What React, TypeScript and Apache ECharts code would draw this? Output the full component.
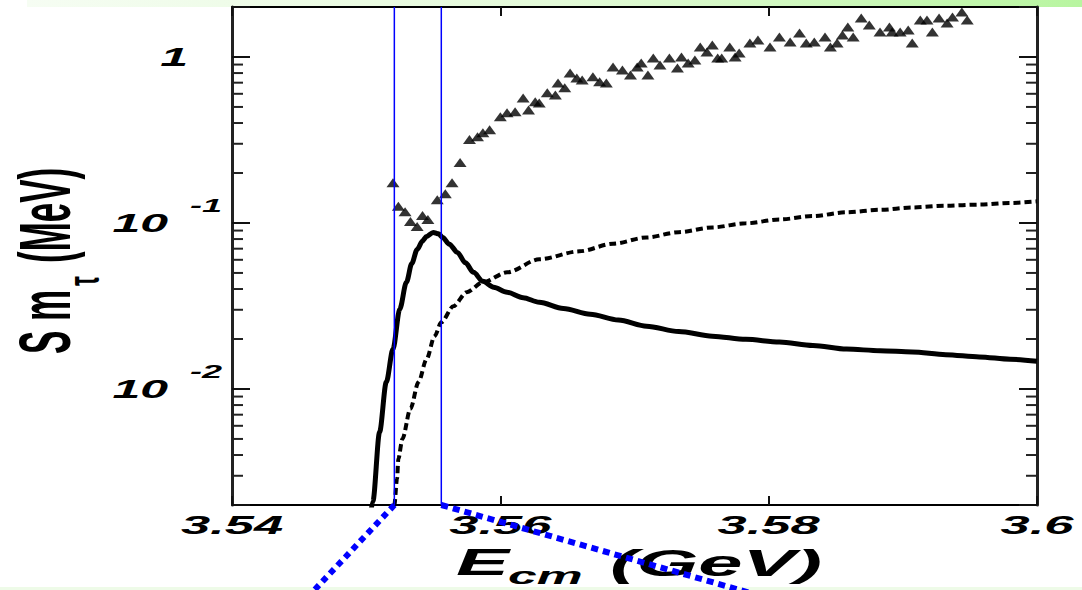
import React, { useEffect, useRef } from 'react';
import * as echarts from 'echarts';

// ---- axes ----
const xTicks = [3.54, 3.56, 3.58, 3.6];
const xTickLabels = ['3.54', '3.56', '3.58', '3.6'];
const yTicks = [1, 0.1, 0.01];
const yTickBase = ['1', '10', '10'];
const yTickExp = ['', '-1', '-2'];
const yMinorTicks = [0.003, 0.004, 0.005, 0.006, 0.007, 0.008, 0.009, 0.02, 0.03, 0.04, 0.05, 0.06, 0.07, 0.08, 0.09, 0.2, 0.3, 0.4, 0.5, 0.6, 0.7, 0.8, 0.9];
const zoomLines = [3.5521, 3.5556];

// ---- triangles (data points) ----
const triE = [3.5520, 3.5524, 3.5529, 3.5533, 3.5538, 3.5542, 3.5546, 3.5553, 3.5559, 3.5564, 3.5570, 3.5577, 3.5583, 3.5587, 3.5592, 3.5600, 3.5605, 3.5611, 3.5617, 3.5621, 3.5626, 3.5629, 3.5635, 3.5641, 3.5643, 3.5648, 3.5652, 3.5657, 3.5661, 3.5669, 3.5674, 3.5679, 3.5684, 3.5691, 3.5697, 3.5702, 3.5705, 3.5710, 3.5714, 3.5719, 3.5726, 3.5732, 3.5735, 3.5740, 3.5745, 3.5749, 3.5754, 3.5758, 3.5762, 3.5765, 3.5771, 3.5775, 3.5778, 3.5786, 3.5792, 3.5801, 3.5808, 3.5816, 3.5823, 3.5828, 3.5834, 3.5842, 3.5846, 3.5851, 3.5855, 3.5859, 3.5863, 3.5869, 3.5875, 3.5883, 3.5890, 3.5892, 3.5898, 3.5904, 3.5907, 3.5913, 3.5918, 3.5922, 3.5927, 3.5933, 3.5937, 3.5944, 3.5948];
const triS = [0.175, 0.126, 0.117, 0.102, 0.0953, 0.111, 0.105, 0.138, 0.150, 0.175, 0.231, 0.318, 0.331, 0.350, 0.365, 0.436, 0.461, 0.467, 0.567, 0.480, 0.537, 0.529, 0.608, 0.591, 0.698, 0.652, 0.801, 0.748, 0.727, 0.759, 0.708, 0.698, 0.871, 0.835, 0.780, 0.871, 0.921, 0.780, 0.986, 0.895, 0.986, 0.859, 1.0, 0.921, 0.959, 1.148, 1.072, 1.180, 0.986, 0.986, 1.148, 1.0, 1.057, 1.214, 1.265, 1.148, 1.318, 1.230, 1.394, 1.214, 1.230, 1.318, 1.148, 1.214, 1.355, 1.514, 1.318, 1.715, 1.557, 1.413, 1.514, 1.413, 1.413, 1.452, 1.214, 1.668, 1.668, 1.413, 1.715, 1.600, 1.738, 1.864, 1.668];

// ---- solid curve ----
const solidE = [3.5503, 3.5505, 3.5510, 3.5515, 3.5520, 3.5525, 3.5530, 3.5534, 3.5538, 3.5542, 3.5545, 3.5550, 3.5554, 3.5557, 3.5562, 3.5568, 3.5574, 3.5580, 3.5587, 3.5595, 3.5605, 3.5617, 3.5629, 3.5647, 3.5667, 3.5688, 3.5709, 3.5733, 3.5758, 3.5783, 3.5808, 3.5833, 3.5858, 3.5883, 3.5907, 3.5932, 3.5957, 3.5980, 3.6000];
const solidS = [0.0017, 0.0021, 0.0055, 0.0110, 0.0174, 0.0302, 0.0439, 0.0570, 0.0693, 0.0780, 0.0830, 0.0877, 0.0860, 0.0818, 0.0745, 0.0665, 0.0575, 0.0504, 0.0445, 0.0410, 0.0383, 0.0355, 0.0333, 0.0305, 0.0282, 0.0260, 0.0239, 0.0222, 0.0208, 0.0199, 0.0192, 0.0183, 0.0174, 0.0170, 0.0167, 0.0161, 0.0156, 0.0151, 0.0147];

// ---- dashed curve ----
const dashE = [3.5520, 3.5521, 3.5523, 3.5524, 3.5527, 3.5533, 3.5539, 3.5545, 3.5551, 3.5556, 3.5565, 3.5575, 3.5587, 3.5605, 3.5629, 3.5659, 3.5684, 3.5709, 3.5733, 3.5758, 3.5783, 3.5808, 3.5833, 3.5858, 3.5883, 3.5907, 3.5932, 3.5957, 3.5980, 3.6000];
const dashS = [0.0017, 0.0020, 0.00288, 0.0038, 0.0050, 0.0076, 0.0110, 0.0151, 0.0208, 0.0252, 0.0315, 0.0383, 0.0439, 0.0504, 0.0604, 0.0675, 0.0750, 0.0818, 0.0880, 0.0940, 0.0995, 0.105, 0.110, 0.116, 0.120, 0.124, 0.127, 0.129, 0.132, 0.135];

const FONT = 'Liberation Sans, Arial, sans-serif';

function txt(text: string, x: number, y: number, size: number, align: string, valign: string, extra: any = {}) {
  return {
    type: 'text',
    x,
    y,
    silent: true,
    ...extra,
    style: {
      text,
      fontFamily: FONT,
      fontSize: size,
      fontWeight: 'bold',
      fontStyle: 'italic',
      fill: '#000',
      align,
      verticalAlign: valign,
      textAlign: align,
      textVerticalAlign: valign,
    },
  };
}

export default function App() {
  const ref = useRef<HTMLDivElement>(null);
  useEffect(() => {
    if (!ref.current) return;
    const chart = echarts.init(ref.current, null, { renderer: 'svg' });
    const tickStyle = { color: '#111', width: 2 };
    const xAxisBase = {
      type: 'value',
      min: 3.54,
      max: 3.6,
      interval: 0.02,
      axisLine: { show: false },
      axisTick: { show: true, inside: true, length: 9, lineStyle: tickStyle },
      axisLabel: { show: false },
      splitLine: { show: false },
    };
    const yAxisBase = {
      type: 'log',
      logBase: 10,
      min: 0.002,
      max: 2,
      axisLine: { show: true, lineStyle: { color: '#222', width: 3 } },
      axisTick: { show: true, inside: true, length: 18, lineStyle: tickStyle },
      axisLabel: { show: false },
      splitLine: { show: false },
    };
    const option: any = {
      animation: false,
      backgroundColor: '#fff',
      grid: { left: 232, top: 7, right: 45, bottom: 85, show: true, borderColor: '#000', borderWidth: 2, backgroundColor: 'transparent' },
      xAxis: [
        { ...xAxisBase, position: 'bottom' },
        { ...xAxisBase, position: 'top' },
      ],
      yAxis: [
        { ...yAxisBase, position: 'left' },
        { ...yAxisBase, position: 'right' },
      ],
      series: [
        {
          type: 'custom',
          xAxisIndex: 0,
          yAxisIndex: 0,
          silent: true,
          clip: false,
          z: 5,
          data: yMinorTicks.map((v) => [3.54, v]),
          renderItem: (params: any, api: any) => {
            const p = api.coord([api.value(0), api.value(1)]);
            const cs = params.coordSys;
            return {
              type: 'group',
              children: [
                { type: 'line', shape: { x1: cs.x, y1: p[1], x2: cs.x + 11, y2: p[1] }, style: { stroke: '#222', lineWidth: 2 } },
                { type: 'line', shape: { x1: cs.x + cs.width - 11, y1: p[1], x2: cs.x + cs.width, y2: p[1] }, style: { stroke: '#222', lineWidth: 2 } },
              ],
            };
          },
        },
        {
          type: 'custom',
          xAxisIndex: 0,
          yAxisIndex: 0,
          silent: true,
          clip: false,
          z: 6,
          data: zoomLines.map((v) => [v, 0.002]),
          renderItem: (params: any, api: any) => {
            const p = api.coord([api.value(0), api.value(1)]);
            const cs = params.coordSys;
            return {
              type: 'line',
              shape: { x1: p[0], y1: cs.y, x2: p[0], y2: cs.y + cs.height },
              style: { stroke: '#0000ff', lineWidth: 1.5 },
            };
          },
        },
        {
          type: 'line',
          data: dashE.map((e, i) => [e, dashS[i]]),
          showSymbol: false,
          smooth: 0.3,
          smoothMonotone: 'x',
          clip: true,
          lineStyle: { color: '#000', width: 4, type: [7, 4] },
          silent: true,
        },
        {
          type: 'line',
          data: solidE.map((e, i) => [e, solidS[i]]),
          showSymbol: false,
          smooth: 0.3,
          smoothMonotone: 'x',
          clip: true,
          lineStyle: { color: '#000', width: 5 },
          silent: true,
        },
        {
          type: 'scatter',
          data: triE.map((e, i) => [e, triS[i]]),
          symbol: 'triangle',
          symbolSize: [13, 9],
          itemStyle: { color: '#000' },
          silent: true,
        },
      ],
    };
    chart.setOption(option);

    const conv = (x: number, y: number) => chart.convertToPixel({ xAxisIndex: 0, yAxisIndex: 0 }, [x, y]) as number[];
    const pL = conv(zoomLines[0], 0.002);
    const pR = conv(zoomLines[1], 0.002);
    const graphics: any[] = [];
    graphics.push({
      type: 'rect',
      silent: true,
      z: -1,
      shape: { x: 27, y: 0, width: 1055, height: 7 },
      style: {
        fill: new echarts.graphic.LinearGradient(0, 0, 1, 0, [
          { offset: 0, color: '#f6fdf3' },
          { offset: 0.5, color: '#e3fad8' },
          { offset: 1, color: '#b8f5a0' },
        ]),
      },
    });
    graphics.push({
      type: 'rect',
      silent: true,
      shape: { x: 0, y: 587, width: 1082, height: 3 },
      style: { fill: '#eefbe8' },
    });
    graphics.push({
      type: 'line',
      silent: true,
      z: 100,
      shape: { x1: pL[0], y1: pL[1], x2: 305, y2: 600 },
      style: { stroke: '#0000ff', lineWidth: 6, lineDash: [6, 5] },
    });
    graphics.push({
      type: 'line',
      silent: true,
      z: 100,
      shape: { x1: pR[0], y1: pR[1], x2: 775, y2: 600 },
      style: { stroke: '#0000ff', lineWidth: 6, lineDash: [7, 5] },
    });
    // x tick labels
    xTicks.forEach((v, i) => {
      const p = conv(v, 0.002);
      graphics.push(txt(xTickLabels[i], p[0], 525, 25, 'center', 'middle', { scaleX: 2.1 }));
    });
    // y tick labels
    yTicks.forEach((v, i) => {
      const p = conv(3.54, v);
      if (yTickExp[i] === '') {
        graphics.push(txt(yTickBase[i], 188, p[1], 25, 'right', 'middle', { scaleX: 2.0 }));
      } else {
        graphics.push(txt(yTickBase[i], 168, p[1], 25, 'right', 'middle', { scaleX: 2.0 }));
        graphics.push(txt(yTickExp[i], 190, p[1] - 17, 18, 'left', 'middle', { scaleX: 2.0 }));
      }
    });
    // x title
    graphics.push(txt('E', 456, 562, 37, 'left', 'middle', { scaleX: 2.15 }));
    graphics.push(txt('cm', 508, 576, 24, 'left', 'middle', { scaleX: 2.15 }));
    graphics.push(txt('(GeV)', 610, 563, 37, 'left', 'middle', { scaleX: 2.15 }));
    // y title (rotated)
    const yTitleStyle = (t: string, size: number) => ({
      text: t,
      fontFamily: FONT,
      fontSize: size,
      fontWeight: 'bold',
      fill: '#000',
      align: 'left',
      verticalAlign: 'middle',
      textAlign: 'left',
      textVerticalAlign: 'middle',
    });
    graphics.push({
      type: 'group',
      x: 45,
      y: 354,
      rotation: Math.PI / 2,
      scaleY: 2.05,
      silent: true,
      children: [
        { type: 'text', x: 0, y: 0, style: yTitleStyle('S m', 35) },
        { type: 'text', x: 68, y: 19, style: yTitleStyle('\u03c4', 22) },
        { type: 'text', x: 91, y: 0, style: yTitleStyle('(MeV)', 35) },
      ],
    });
    chart.setOption({ graphic: graphics });

    return () => chart.dispose();
  }, []);
  return <div ref={ref} style={{ position: 'absolute', left: 0, top: 0, width: 1082, height: 590 }} />;
}
